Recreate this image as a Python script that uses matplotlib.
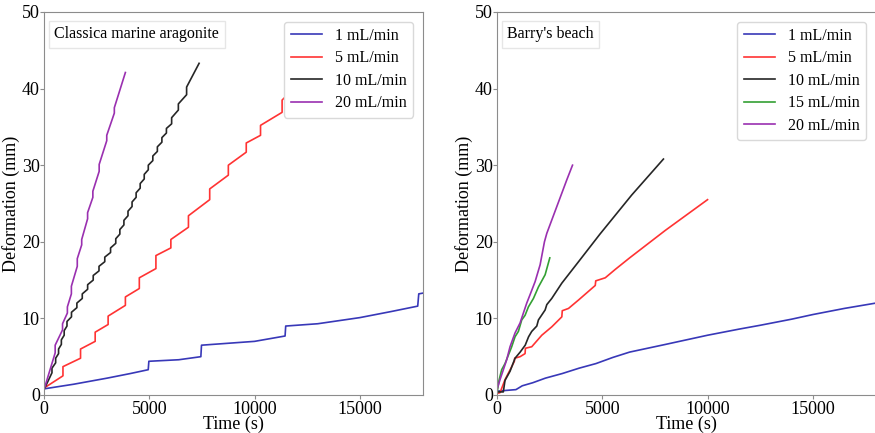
import matplotlib
matplotlib.use("Agg")
import matplotlib.pyplot as plt

plt.rcParams["font.family"] = ["Liberation Serif", "DejaVu Serif"]
plt.rcParams["font.size"] = 13

# ---- Classica marine aragonite ----
ca_1_t = [0, 1400, 3000, 4100, 4950, 4980, 6400, 7450, 7480, 10000, 11450,
          11480, 13000, 15000, 16500, 17750, 17800, 18000]
ca_1_y = [0.8, 1.4, 2.2, 2.8, 3.3, 4.4, 4.6, 5.0, 6.5, 7.0, 7.7,
          9.0, 9.3, 10.1, 10.9, 11.6, 13.2, 13.3]

ca_5_t = [0, 900, 900, 1735, 1735, 2430, 2430, 3045, 3045, 3865, 3865,
          4527, 4527, 5315, 5315, 6025, 6025, 6860, 6860, 7870, 7870,
          8755, 8755, 9606, 9606, 10284, 10284, 11309, 11309, 11600]
ca_5_y = [0.9, 2.5, 3.7, 4.8, 6.0, 7.0, 8.2, 9.2, 10.3, 11.7, 12.8,
          13.9, 15.3, 16.5, 18.2, 19.2, 20.3, 21.9, 23.4, 25.5, 26.9,
          28.7, 30.0, 31.7, 32.9, 33.9, 35.2, 36.9, 38.5, 39.3]

ca_10_t = [0, 378, 378, 553, 553, 691, 691, 824, 824, 958, 958, 1091, 1091,
           1305, 1305, 1561, 1561, 1817, 1817, 2072, 2072, 2337, 2337,
           2612, 2612, 2886, 2886, 3161, 3161, 3408, 3408, 3602, 3602,
           3795, 3795, 3989, 3989, 4182, 4182, 4375, 4375, 4568, 4568,
           4760, 4760, 4953, 4953, 5168, 5168, 5384, 5384, 5599, 5599,
           5814, 5814, 6062, 6062, 6381, 6381, 6773, 6773, 7366]
ca_10_y = [0.7, 2.9, 3.5, 4.2, 4.8, 5.4, 6.0, 6.6, 7.2, 7.8, 8.4, 9.0, 9.6,
           10.2, 10.8, 11.4, 12.0, 12.6, 13.2, 13.8, 14.4, 15.0, 15.6,
           16.2, 16.8, 17.4, 18.0, 18.6, 19.2, 19.8, 20.4, 21.0, 21.6,
           22.2, 22.8, 23.4, 24.0, 24.6, 25.2, 25.8, 26.4, 27.0, 27.6,
           28.2, 28.8, 29.4, 30.0, 30.6, 31.2, 31.8, 32.4, 33.0, 33.6,
           34.2, 34.8, 35.4, 36.2, 37.2, 38.0, 39.2, 40.2, 43.3]

ca_20_t = [0, 530, 530, 880, 880, 1110, 1110, 1300, 1300, 1580, 1580,
           1790, 1790, 2070, 2070, 2320, 2320, 2620, 2620, 2980, 2980,
           3340, 3340, 3865]
ca_20_y = [0.7, 5.5, 6.5, 8.5, 9.3, 10.7, 11.5, 13.2, 14.2, 16.8, 17.8,
           19.6, 20.3, 23.0, 23.8, 25.8, 26.6, 29.2, 30.1, 33.2, 33.9,
           36.8, 37.5, 42.1]

# ---- Barry's beach ----
bb_1_t = [0, 900, 1200, 1700, 2300, 3100, 3900, 4700, 5500, 6300, 8000,
          10000, 11500, 12500, 14000, 15000, 16500, 18000]
bb_1_y = [0.5, 0.7, 1.2, 1.6, 2.2, 2.8, 3.5, 4.1, 4.9, 5.6, 6.6,
          7.8, 8.6, 9.1, 9.9, 10.5, 11.3, 12.0]

bb_5_t = [0, 143, 380, 700, 825, 840, 1095, 1333, 1350, 1651, 2127, 2603,
          3079, 3100, 3397, 3873, 4667, 4690, 5143, 5619, 6300, 8000, 10000]
bb_5_y = [0.2, 0.3, 2.0, 3.7, 4.4, 4.8, 5.0, 5.4, 6.1, 6.3, 7.8, 8.9,
          10.2, 11.0, 11.3, 12.4, 14.3, 14.9, 15.3, 16.4, 17.9, 21.5, 25.5]

bb_10_t = [0, 300, 380, 620, 857, 1100, 1340, 1500, 1650, 1890, 1968,
           2286, 2366, 2600, 3079, 3873, 4889, 6397, 7905]
bb_10_y = [0.4, 0.4, 1.9, 3.1, 4.8, 5.6, 6.5, 7.6, 8.3, 9.0, 9.8,
           11.1, 11.8, 12.6, 14.6, 17.4, 21.0, 26.1, 30.8]

bb_15_t = [0, 95, 222, 381, 540, 698, 857, 1016, 1175, 1333, 1492, 1730,
           1968, 2286, 2508]
bb_15_y = [0.2, 1.9, 3.3, 4.1, 5.2, 6.3, 7.6, 8.3, 9.8, 10.4, 11.5, 12.6,
           14.1, 15.7, 17.9]

bb_20_t = [0, 143, 302, 460, 619, 857, 1095, 1254, 1413, 1571, 1810, 2048,
           2254, 2365, 2841, 3317, 3587]
bb_20_y = [0.7, 2.0, 3.3, 4.6, 6.3, 8.1, 9.4, 10.7, 12.0, 13.1, 14.8, 17.0,
           20.0, 21.1, 24.6, 28.1, 30.0]

C_BLUE = "#3838b8"
C_RED = "#ff3333"
C_BLACK = "#262626"
C_GREEN = "#33a033"
C_PURPLE = "#9a30b0"
LW = 1.2

fig = plt.figure(figsize=(8.75, 4.33), dpi=100)
ax1 = fig.add_axes([0.0503, 0.0878, 0.4331, 0.8845])
ax2 = fig.add_axes([0.568, 0.0878, 0.4331, 0.8845])

ax1.plot(ca_1_t, ca_1_y, color=C_BLUE, lw=LW, label="1 mL/min")
ax1.plot(ca_5_t, ca_5_y, color=C_RED, lw=LW, label="5 mL/min")
ax1.plot(ca_10_t, ca_10_y, color=C_BLACK, lw=LW, label="10 mL/min")
ax1.plot(ca_20_t, ca_20_y, color=C_PURPLE, lw=LW, label="20 mL/min")

ax2.plot(bb_1_t, bb_1_y, color=C_BLUE, lw=LW, label="1 mL/min")
ax2.plot(bb_5_t, bb_5_y, color=C_RED, lw=LW, label="5 mL/min")
ax2.plot(bb_10_t, bb_10_y, color=C_BLACK, lw=LW, label="10 mL/min")
ax2.plot(bb_15_t, bb_15_y, color=C_GREEN, lw=LW, label="15 mL/min")
ax2.plot(bb_20_t, bb_20_y, color=C_PURPLE, lw=LW, label="20 mL/min")

for ax, name in [(ax1, "Classica marine aragonite"), (ax2, "Barry's beach")]:
    ax.set_xlim(0, 18000)
    ax.set_ylim(0, 50)
    ax.set_xticks([0, 5000, 10000, 15000])
    ax.set_yticks([0, 10, 20, 30, 40, 50])
    ax.set_xlabel("Time (s)", labelpad=-1)
    ax.set_ylabel("Deformation (mm)", labelpad=1)
    for sp in ax.spines.values():
        sp.set_color("0.55")
    ax.tick_params(axis="x", length=3, color="0.55", pad=1, labelsize=13)
    ax.tick_params(axis="y", length=3, color="0.55", pad=0, labelsize=13)
    ax.legend(loc="upper right", framealpha=1, edgecolor="0.85",
              fontsize=11.5, labelspacing=0.4, handlelength=2.0,
              handletextpad=0.8, borderaxespad=0.6)
    ax.text(0.027, 0.963, name, transform=ax.transAxes, va="top", ha="left",
            fontsize=11.5,
            bbox=dict(boxstyle="square,pad=0.35", fc="white", ec="0.9"))

fig.savefig("out.png")
